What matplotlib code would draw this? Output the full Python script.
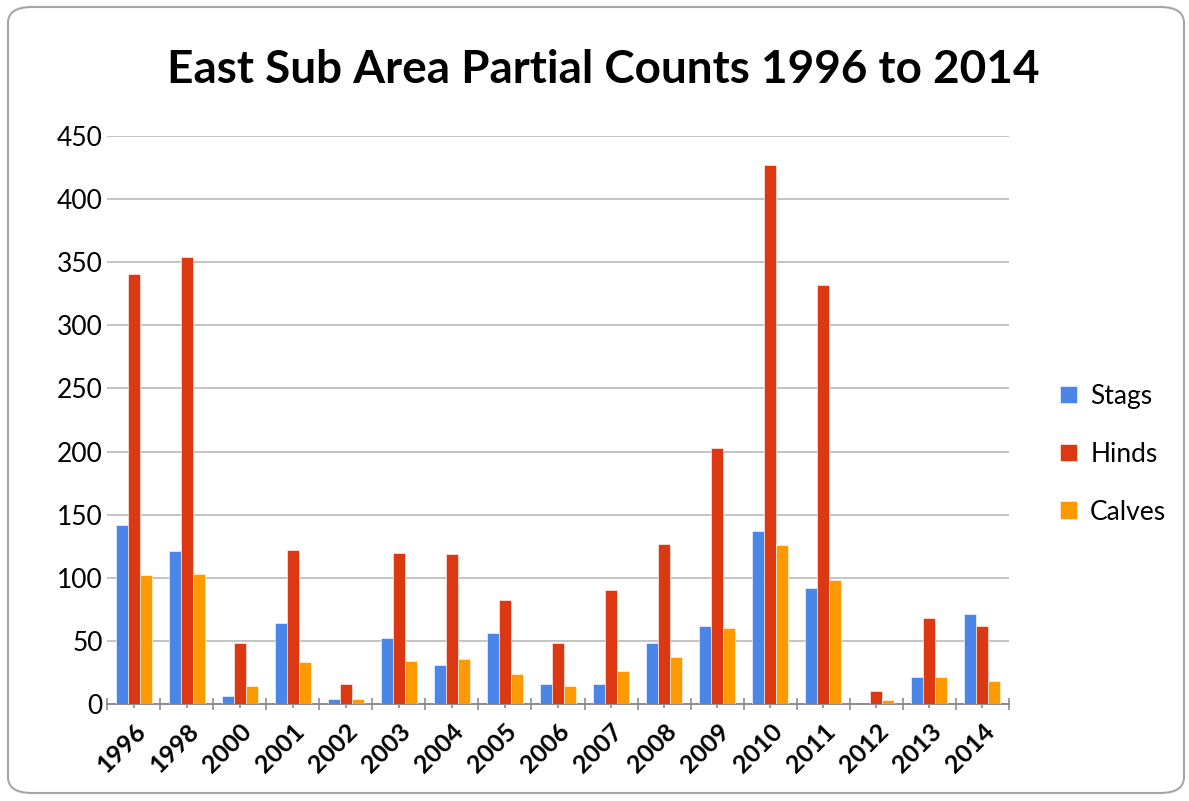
import numpy as np
import matplotlib.pyplot as plt
from matplotlib.patches import FancyBboxPatch

years = ['1996', '1998', '2000', '2001', '2002', '2003', '2004', '2005', '2006',
         '2007', '2008', '2009', '2010', '2011', '2012', '2013', '2014']
stags = [142, 121, 6, 64, 4, 52, 31, 56, 16, 16, 48, 62, 137, 92, 0, 21, 71]
hinds = [341, 354, 48, 122, 16, 120, 119, 82, 48, 90, 127, 203, 427, 332, 10, 68, 62]
calves = [102, 103, 14, 33, 4, 34, 36, 24, 14, 26, 37, 60, 126, 98, 3, 21, 18]

plt.rcParams['font.family'] = ['Lato', 'DejaVu Sans']

fig = plt.figure(figsize=(11.89, 8.01), dpi=100)
fig.patch.set_facecolor('white')
# rounded chart border
border = FancyBboxPatch((8 / 1189, 8 / 801), 1176 / 1189, 786 / 801,
                        boxstyle='round,pad=0,rounding_size=0.02',
                        transform=fig.transFigure, fill=False,
                        edgecolor='#a6a6a6', linewidth=1.5)
fig.patches.append(border)

ax = fig.add_axes([107 / 1189, 97 / 801, 902 / 1189, 568 / 801])

x = np.arange(len(years))
w = 0.226
series = [('Stags', stags, '#4a86e8'), ('Hinds', hinds, '#dc3912'), ('Calves', calves, '#ff9900')]
for i, (name, vals, col) in enumerate(series):
    ax.bar(x + (i - 1) * w, vals, w, color=col, label=name,
           edgecolor='white', linewidth=0.4, zorder=3)

ax.set_xlim(-0.5, len(years) - 0.5)
ax.set_ylim(0, 450)
ax.set_yticks(range(0, 451, 50))
ax.yaxis.grid(True, color='#c4c4c4', linewidth=1.4, zorder=0)
ax.tick_params(axis='y', length=0, labelsize=19, pad=3)

# ticks at category boundaries and centers
ax.set_xticks(x)
ax.set_xticklabels(years, rotation=45, ha='right', rotation_mode='anchor',
                   fontweight='bold', fontsize=18)
ax.set_xticks(np.arange(-0.5, len(years), 1), minor=True)
ax.tick_params(axis='x', which='major', length=6, direction='inout', color='#8c8c8c', width=1.2, pad=8)
ax.tick_params(axis='x', which='minor', length=8, direction='inout', color='#8c8c8c', width=1.2)

for s in ['top', 'right', 'left']:
    ax.spines[s].set_visible(False)
ax.spines['bottom'].set_color('#8c8c8c')
ax.spines['bottom'].set_linewidth(1.4)

fig.text(603 / 1189, 1 - 70 / 801, 'East Sub Area Partial Counts 1996 to 2014',
         ha='center', va='center', fontsize=33, fontweight='bold')

ax.legend(loc='center left', bbox_to_anchor=(1.03, 0.44), frameon=False,
          fontsize=19, handlelength=0.65, handleheight=0.65, labelspacing=1.25,
          handletextpad=0.5)

fig.savefig('out.png', dpi=100)
